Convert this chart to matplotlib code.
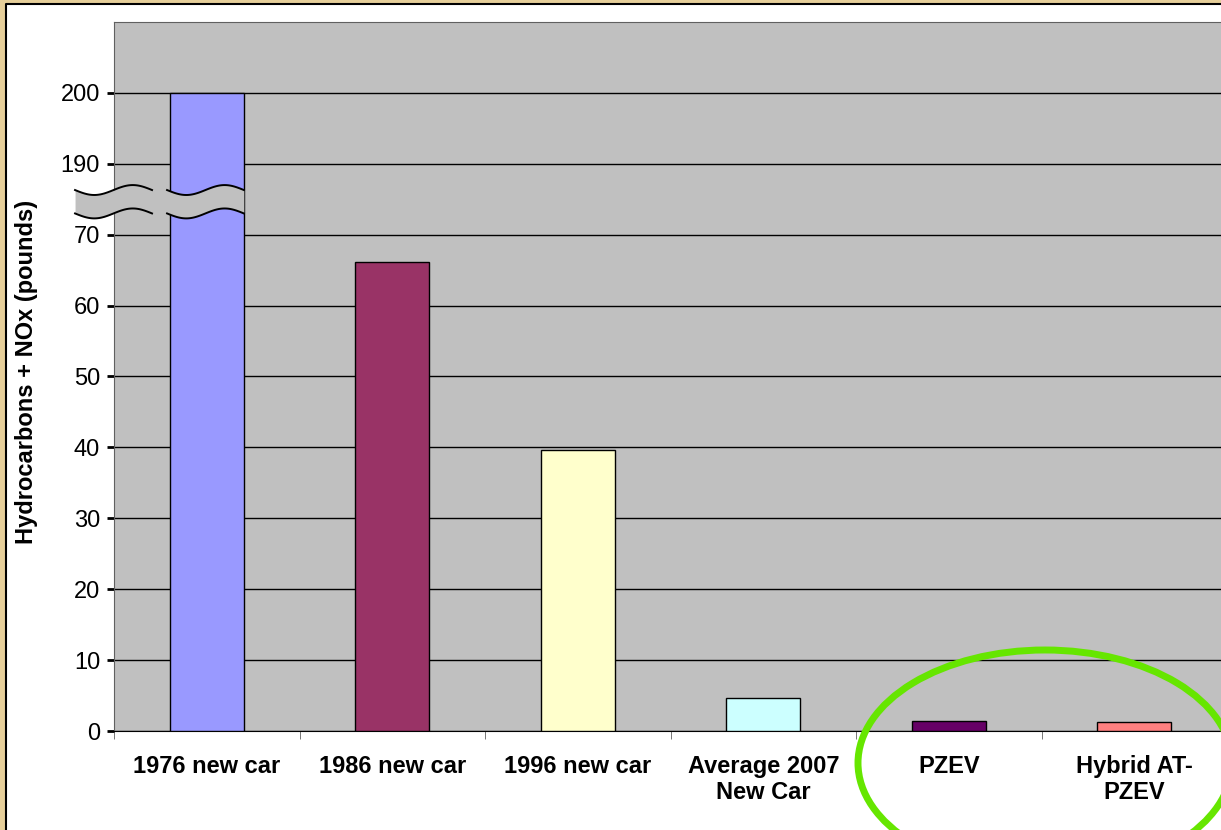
import numpy as np
import matplotlib.pyplot as plt
from matplotlib.patches import Ellipse, Rectangle
from matplotlib.lines import Line2D

# emissions data (y plotted on a broken scale: 190 -> 80, 200 -> 90)
categories = ['1976 new car', '1986 new car', '1996 new car',
              'Average 2007\nNew Car', 'PZEV', 'Hybrid AT-\nPZEV']
values = [200, 66.2, 39.6, 4.6, 1.4, 1.3]
colors = ['#9999FF', '#993366', '#FFFFCC', '#CCFFFF', '#660066', '#FF8080']
ytick_pos = [0, 10, 20, 30, 40, 50, 60, 70, 80, 90]
ytick_labels = ['0', '10', '20', '30', '40', '50', '60', '70', '190', '200']


def broken(v):
    # map real value onto the compressed axis
    return v if v <= 70 else v - 110


plt.rcParams['font.family'] = ['Liberation Sans', 'DejaVu Sans']

fig = plt.figure(figsize=(12.21, 8.30), dpi=100, facecolor='#E6CF9A')
x0f, y1f = 6 / 1221, 1 - 4 / 830
fig.patches.append(Rectangle((x0f, 0), 1 - x0f, y1f,
                             transform=fig.transFigure, facecolor='white',
                             edgecolor='none', zorder=-5))
fig.lines.append(Line2D([x0f, x0f, 1], [0, y1f, y1f], transform=fig.transFigure,
                        color='black', linewidth=1.5, zorder=-4))

ax = fig.add_axes([114 / 1221, 99 / 830, 1113 / 1221, 709 / 830])
ax.set_facecolor('#C0C0C0')

x = np.arange(len(categories))
heights = [broken(v) for v in values]
ax.bar(x, heights, width=0.4, color=colors, edgecolor='black',
       linewidth=1, zorder=3)

ax.set_xlim(-0.5, len(categories) - 0.5)
ax.set_ylim(0, 100)
ax.set_yticks(ytick_pos)
ax.set_yticklabels(ytick_labels, fontsize=17)
ax.yaxis.grid(True, color='black', linewidth=1, zorder=1)
ax.set_axisbelow(True)
ax.tick_params(axis='y', length=5, width=2, color='black', pad=5)

ax.set_xticks(x)
ax.set_xticklabels(categories, fontsize=17, fontweight='bold')
ax.set_xticks(np.arange(-0.5, len(categories)), minor=True)
ax.tick_params(axis='x', which='major', length=0, pad=17)
ax.tick_params(axis='x', which='minor', length=6, color='#606060')

ax.set_ylabel('Hydrocarbons + NOx (pounds)', fontsize=17, fontweight='bold')
ax.yaxis.set_label_coords(-0.0685, 0.506)

for side in ['left', 'top', 'right']:
    ax.spines[side].set_color('#606060')
ax.spines['bottom'].set_color('black')

# axis break marks
def wave_band(xa, xb):
    xs = np.linspace(xa, xb, 60)
    wav = -0.7 * np.sin(2 * np.pi * (xs - xa) / (xb - xa))
    top = 76.3 + wav
    bot = 73.0 + wav
    ax.fill_between(xs, bot, top, color='#C0C0C0', zorder=5, clip_on=False,
                    linewidth=0)
    ax.plot(xs, top, color='black', linewidth=1.4, zorder=6, clip_on=False)
    ax.plot(xs, bot, color='black', linewidth=1.4, zorder=6, clip_on=False)

wave_band(-0.71, -0.295)
wave_band(-0.214, 0.2)

# highlight ellipse
fig.patches.append(Ellipse((1045 / 1221, 1 - 763 / 830), 374 / 1221,
                           226 / 830, transform=fig.transFigure,
                           fill=False, edgecolor='#66E600', linewidth=5,
                           zorder=10))

fig.savefig('out.png', dpi=100, facecolor=fig.get_facecolor())
